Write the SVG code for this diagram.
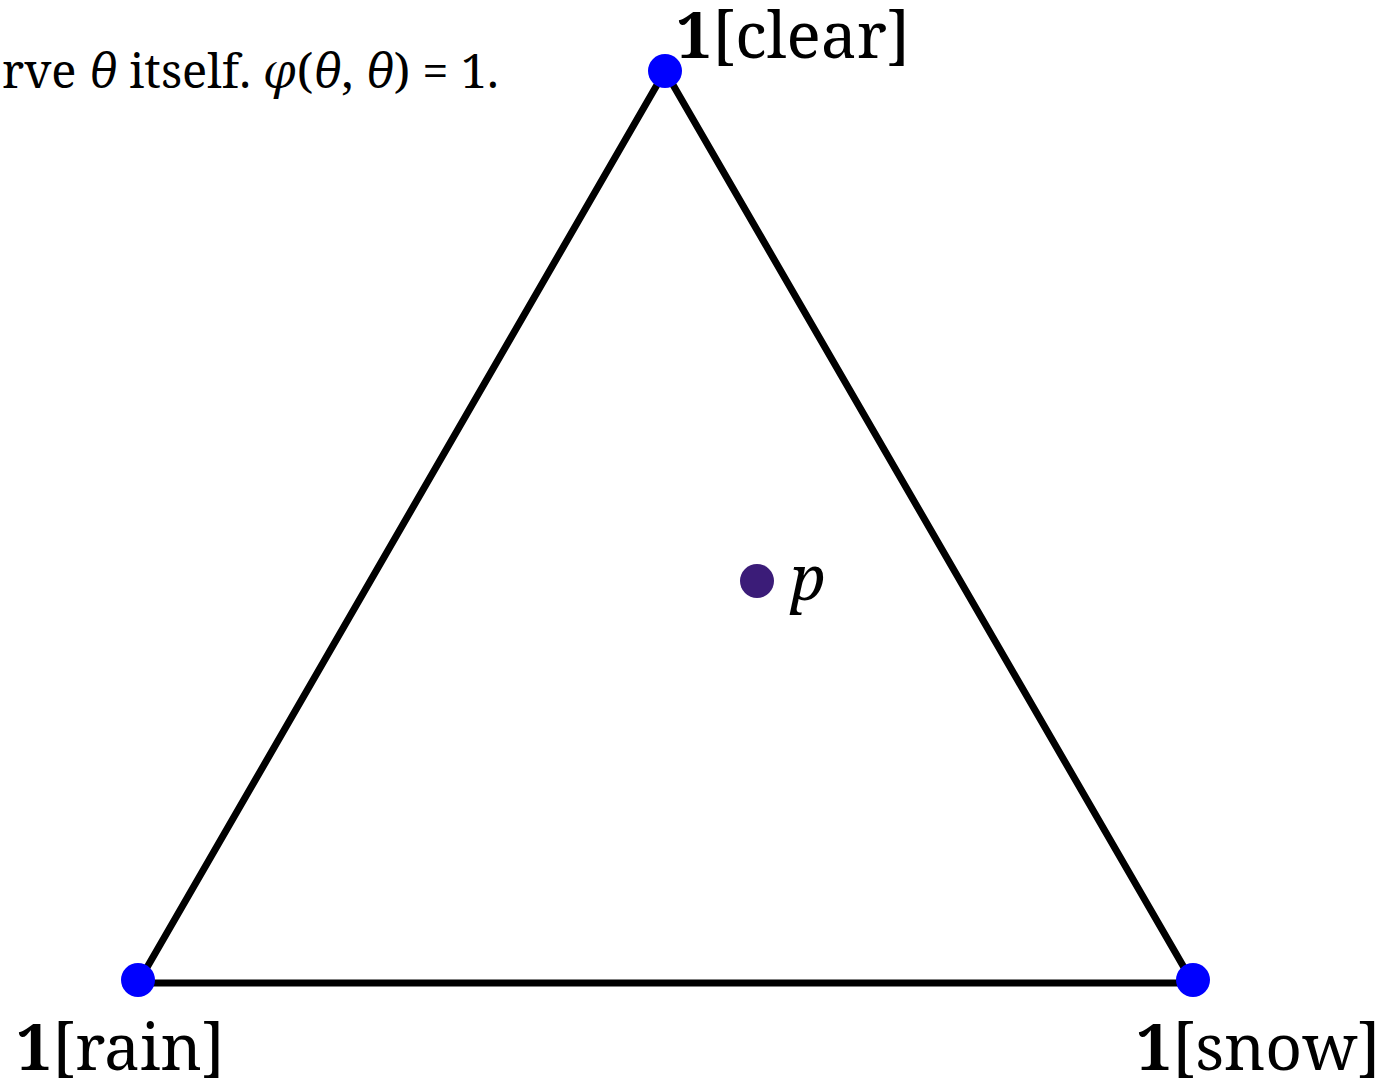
<svg xmlns="http://www.w3.org/2000/svg" width="1384" height="1080" viewBox="0 0 1384 1080">
<style>
text{font-family:"Noto Serif","DejaVu Serif","Liberation Serif",serif;fill:#000}
.lbl{font-size:64px}
.b{font-weight:bold}
.v{fill:#0000ff}
.edge{stroke:#000;stroke-width:7;fill:none;stroke-linejoin:round}
</style>
<rect width="1384" height="1080" fill="#fff"/>
<text x="2" y="88" font-size="47">rve <tspan font-style="italic">θ</tspan> itself. <tspan font-style="italic">φ</tspan>(<tspan font-style="italic">θ</tspan>, <tspan font-style="italic">θ</tspan>) = 1.</text>
<g id="connectors">
<polyline class="edge" points="138,983 665,71 1193,983 138,983"/>
</g>
<g id="clear"><circle class="v" cx="665" cy="71" r="17"/><text class="lbl" x="676" y="58"><tspan class="b">1</tspan>[clear]</text></g>
<g id="rain"><circle class="v" cx="138" cy="980" r="17"/><text class="lbl" x="16" y="1070"><tspan class="b">1</tspan>[rain]</text></g>
<g id="snow"><circle class="v" cx="1193" cy="980" r="17"/><text class="lbl" x="1136" y="1070"><tspan class="b">1</tspan>[snow]</text></g>
<g id="p"><circle cx="757" cy="581" r="17" fill="#3b1c78"/><text x="790" y="600" font-size="62" font-style="italic">p</text></g>
</svg>
